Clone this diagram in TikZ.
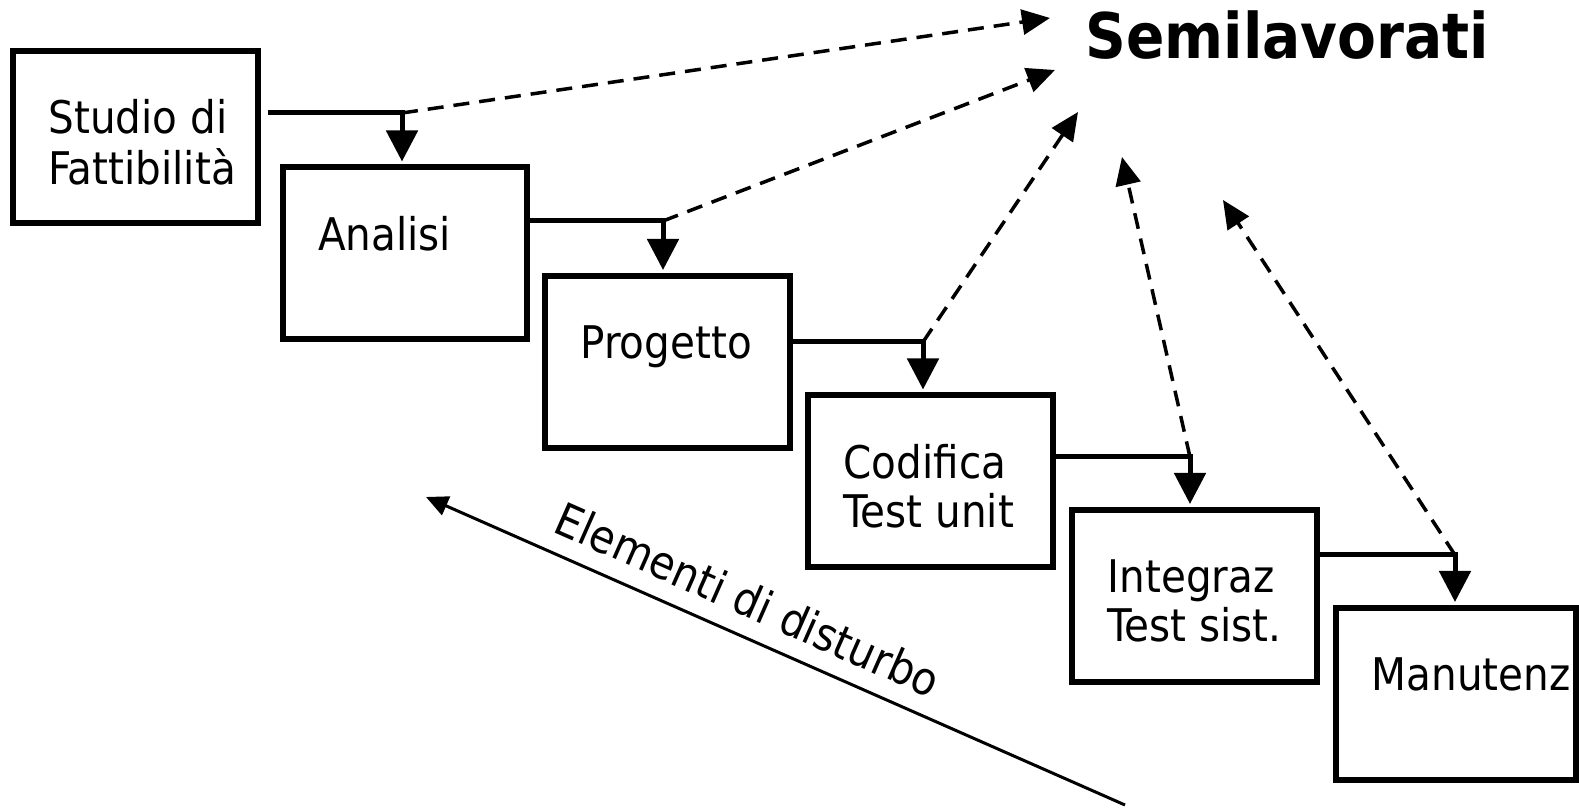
\documentclass[tikz,border=0pt]{standalone}
\usepackage{fontspec}
\setmainfont{DejaVu Sans Condensed}
\usetikzlibrary{arrows.meta,calc}

\begin{document}
\begin{tikzpicture}[x=0.1mm, y=-0.1mm,
  stagebox/.style={draw, line width=0.6mm, outer sep=0pt, inner sep=0pt,
                   minimum width=24.5mm, minimum height=17.2mm},
  stagetext/.style={anchor=base west, inner sep=0pt,
                    font=\fontsize{12.8pt}{13.7pt}\selectfont},
  flow/.style={line width=0.5mm, -{Triangle[length=3.1mm,width=3.1mm]}, shorten >=0.6mm},
  feedback/.style={line width=0.35mm, dash pattern=on 1.6mm off 1mm,
                   -{Triangle[length=2.8mm,width=2.5mm]}},
  disturb/.style={line width=0.3mm, -{Triangle[length=2.2mm,width=2mm]}},
]
\useasboundingbox (0,0) rectangle (1579,808);

% phases of the waterfall
\node[stagebox] (b1) at (135.5,137) {};
\node[stagebox] (b2) at (405,253.5) {};
\node[stagebox] (b3) at (667.5,362) {};
\node[stagebox] (b4) at (930.5,481.5) {};
\node[stagebox] (b5) at (1194.5,596) {};
\node[stagebox, minimum width=24mm] (b6) at (1456,694) {};

\node[stagetext] (t1) at ($(b1.north west)+(35,83)$)
  {\begin{tabular}[t]{@{}l@{}}Studio di\\Fattibilità\end{tabular}};
\node[stagetext] (t2) at ($(b2.north west)+(35,83)$) {Analisi};
\node[stagetext] (t3) at ($(b3.north west)+(35,83)$) {Progetto};
\node[stagetext] (t4) at ($(b4.north west)+(35,83)$)
  {\begin{tabular}[t]{@{}l@{}}Codifica\\Test unit\end{tabular}};
\node[stagetext] (t5) at ($(b5.north west)+(35,83)$)
  {\begin{tabular}[t]{@{}l@{}}Integraz\\Test sist.\end{tabular}};
\node[stagetext] (t6) at ($(b6.north west)+(35,83)$) {Manutenz};

% intermediate products
\node[anchor=base west, inner sep=0pt, font=\fontsize{17.9pt}{20pt}\selectfont\bfseries]
  (semi) at (1085,59) {Semilavorati};

% hand-over points between phases
\coordinate (k1) at (402,113);
\coordinate (k2) at (663,221);
\coordinate (k3) at (923,342);
\coordinate (k4) at (1190,457);
\coordinate (k5) at (1455,555);
\coordinate (o1) at ([xshift=1mm]b1.east);

\draw[flow] (o1 |- k1) -- (k1) -- (k1 |- b2.north);
\draw[flow] (b2.east |- k2) -- (k2) -- (k2 |- b3.north);
\draw[flow] (b3.east |- k3) -- (k3) -- (k3 |- b4.north);
\draw[flow] (b4.east |- k4) -- (k4) -- (k4 |- b5.north);
\draw[flow] (b5.east |- k5) -- (k5) -- (k5 |- b6.north);

% links towards the intermediate products
\coordinate (s1) at (1050,18);
\coordinate (s2) at (1055,70);
\coordinate (s3) at (1078,112);
\coordinate (s4) at (1122,157);
\coordinate (s5) at (1223,200);
\draw[feedback] (k1) -- (s1);
\draw[feedback] (k2) -- (s2);
\draw[feedback] (k3) -- (s3);
\draw[feedback] (k4) -- (s4);
\draw[feedback] (k5) -- (s5);

% disturbing factors
\coordinate (d0) at (1125,805);
\coordinate (d1) at (426,497);
\draw[disturb] (d0) -- node[sloped, pos=0.56, above=1.7mm, inner sep=0pt,
    font=\fontsize{13pt}{14pt}\selectfont] (dl) {Elementi di disturbo} (d1);
\end{tikzpicture}
\end{document}
